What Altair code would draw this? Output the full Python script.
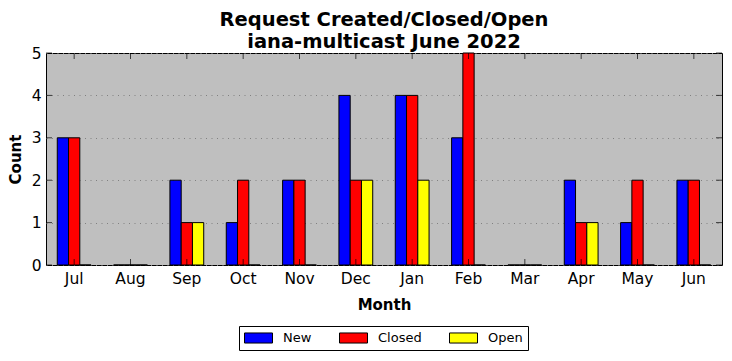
import altair as alt
import pandas as pd

months = ["Jul", "Aug", "Sep", "Oct", "Nov", "Dec", "Jan", "Feb", "Mar", "Apr", "May", "Jun"]
new_vals = [3, 0, 2, 1, 2, 4, 4, 3, 0, 2, 1, 2]
closed_vals = [3, 0, 1, 2, 2, 2, 4, 5, 0, 1, 2, 2]
open_vals = [0, 0, 1, 0, 0, 2, 2, 0, 0, 1, 0, 0]
series = ["New", "Closed", "Open"]
colors = ["#0000ff", "#ff0000", "#ffff00"]
y_ticks = [0, 1, 2, 3, 4, 5]

rows = []
for i, m in enumerate(months):
    for s, vals in zip(series, [new_vals, closed_vals, open_vals]):
        rows.append({"Month": m, "Status": s, "Count": vals[i]})
df = pd.DataFrame(rows)
df_months = pd.DataFrame({"Month": months})
df_y = pd.DataFrame({"v": y_ticks})

W, H = 676, 212
FONT = "DejaVu Sans"

x_scale = alt.Scale(domain=months, paddingInner=0.4, paddingOuter=0.2)
y_scale = alt.Scale(domain=[0, 5], nice=False, zero=True)

bars = alt.Chart(df).mark_bar(stroke="black", strokeWidth=1, opacity=1).encode(
    x=alt.X("Month:N", scale=x_scale, sort=months,
            axis=alt.Axis(title="Month", labelAngle=0, domain=False, ticks=False,
                          labelFontSize=15.5, labelColor="black", labelPadding=6,
                          titleFontSize=15, titleFontWeight="bold", titleColor="black",
                          titlePadding=11, labelFont=FONT, titleFont=FONT)),
    xOffset=alt.XOffset("Status:N", sort=series,
                        scale=alt.Scale(domain=series, paddingInner=0, paddingOuter=0)),
    y=alt.Y("Count:Q", scale=y_scale,
            axis=alt.Axis(title="Count", values=y_ticks, domain=False, ticks=False,
                          grid=True, gridDash=[1, 4.5], gridColor="#808080", gridWidth=1,
                          labelFontSize=15.5, labelColor="black", labelPadding=5,
                          titleFontSize=15, titleFontWeight="bold", titleColor="black",
                          titlePadding=8, labelFont=FONT, titleFont=FONT)),
    color=alt.Color("Status:N", sort=series,
                    scale=alt.Scale(domain=series, range=colors),
                    legend=alt.Legend(
                        title=None, orient="none", direction="horizontal",
                        legendX=193, legendY=273,
                        symbolType="M-1,-0.36L1,-0.36L1,0.36L-1,0.36Z",
                        symbolSize=784, symbolStrokeColor="black", symbolStrokeWidth=1,
                        symbolOpacity=1, clipHeight=14,
                        labelFontSize=13, labelFont=FONT, labelColor="black",
                        labelOffset=10, columnPadding=27, padding=5,
                        strokeColor="black", fillColor="white", cornerRadius=0)),
)

tick_len = 6
yt_left = alt.Chart(df_y).mark_tick(orient="horizontal", size=tick_len, thickness=1,
                                    color="black", xOffset=tick_len / 2).encode(
    y=alt.Y("v:Q", scale=y_scale), x=alt.value(0))
yt_right = alt.Chart(df_y).mark_tick(orient="horizontal", size=tick_len, thickness=1,
                                     color="black", xOffset=-tick_len / 2).encode(
    y=alt.Y("v:Q", scale=y_scale), x=alt.value(W))
xt_bottom = alt.Chart(df_months).mark_tick(orient="vertical", size=tick_len, thickness=1,
                                           color="black", yOffset=-tick_len / 2).encode(
    x=alt.X("Month:N", scale=x_scale, sort=months), y=alt.value(H))
xt_top = alt.Chart(df_months).mark_tick(orient="vertical", size=tick_len, thickness=1,
                                        color="black", yOffset=tick_len / 2).encode(
    x=alt.X("Month:N", scale=x_scale, sort=months), y=alt.value(0))

chart = alt.layer(bars, yt_left, yt_right, xt_bottom, xt_top).properties(
    width=W, height=H,
    title=alt.TitleParams(["Request Created/Closed/Open", "iana-multicast June 2022"],
                          fontSize=19.5, font=FONT, fontWeight="bold", color="black",
                          anchor="middle", lineHeight=22, offset=-6),
    autosize=alt.AutoSizeParams(type="none"),
    padding={"left": 46, "top": 53, "right": 10, "bottom": 96},
).configure(background="white").configure_view(fill="#bfbfbf", stroke="black", strokeWidth=1)

chart.save("out.html", embed_options={"renderer": "svg", "actions": False})
